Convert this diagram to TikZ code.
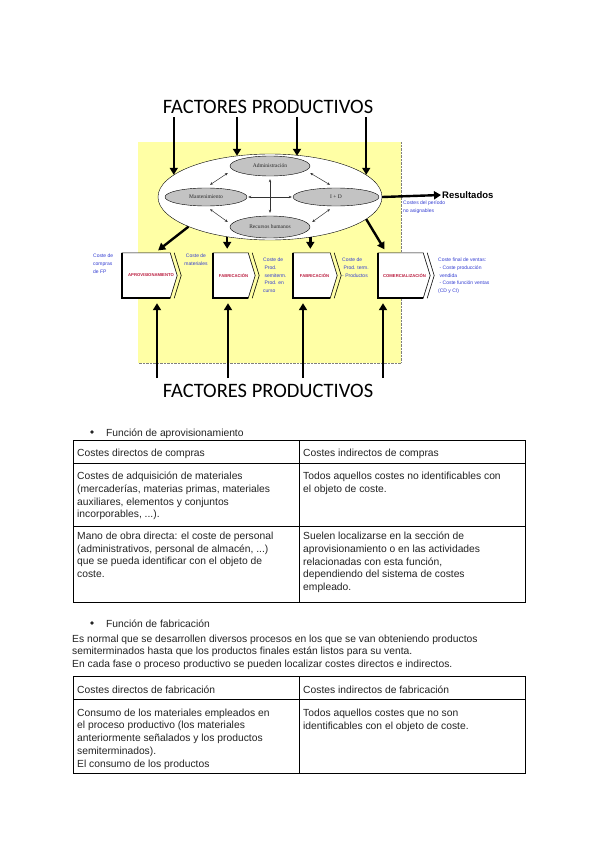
\documentclass[tikz,border=0pt]{standalone}
\usepackage{fontspec}
\setmainfont{Liberation Sans}
\newfontfamily\titlefont{Carlito}
\newfontfamily\ellfont{Liberation Serif}
\usetikzlibrary{positioning,arrows.meta,shapes.geometric,calc}
\definecolor{padclr}{RGB}{255,255,165}
\definecolor{lblclr}{RGB}{50,60,210}
\definecolor{boxclr}{RGB}{185,25,60}
\definecolor{ellclr}{RGB}{195,195,195}
\definecolor{txtclr}{RGB}{35,35,35}
\tikzset{
    fat/.style={line width=2.4pt,-{Triangle[length=7pt,width=8pt]}},
    dbl/.style={{Stealth[length=3pt,width=2.5pt]}-{Stealth[length=3pt,width=2.5pt]},line width=0.5pt,draw=black!80},
    hub/.style={ellipse,draw,thin,fill=white,minimum width=224pt,minimum height=86pt},
    area/.style={ellipse,draw,thin,fill=ellclr,minimum height=20pt,inner sep=0pt,font=\ellfont\fontsize{5.5}{6.5}\selectfont,text=black!85},
    proc/.style={rectangle,minimum height=45pt,inner sep=0pt},
    proclbl/.style={font=\fontsize{4.2}{5}\selectfont\bfseries,text=boxclr,inner sep=0pt},
    notetext/.style={font=\fontsize{5}{7.6}\selectfont,text=lblclr,align=left,inner sep=0pt},
    bigtitle/.style={font=\titlefont\fontsize{20.5}{22}\selectfont},
    cell/.style={anchor=north west,align=left,inner sep=0pt,font=\fontsize{10.3}{12.9}\selectfont,text=txtclr},
    tabline/.style={line width=0.9pt},
}
\begin{document}
\begin{tikzpicture}[x=1pt,y=-1pt]
\useasboundingbox (0,0) rectangle (600,848);
\fill[white] (0,0) rectangle (600,848);

% yellow diagram area
\fill[padclr] (138,142) rectangle (401,363);
\draw[densely dotted,gray] (401,142) -- (401,363) -- (138,363);

\node[bigtitle] (tt) at (268,107) {FACTORES PRODUCTIVOS};
\node[bigtitle] (tb) at (268,391) {FACTORES PRODUCTIVOS};

% functions of the company
\node[hub] (bigell) at (270,197) {};
\node[area,minimum width=80pt] (adm) at (270,166) {Administración};
\node[area,minimum width=82pt,minimum height=18pt] (mnt) at (206,197) {Mantenimiento};
\node[area,minimum width=86pt,minimum height=18pt] (id) at (336,197) {I + D};
\node[area,minimum width=80pt,minimum height=22pt] (rh) at (270,227) {Recursos humanos};

\draw[dbl,shorten <=3pt,shorten >=3pt] (adm.south) -- (rh.north);
\draw[dbl,shorten <=1pt,shorten >=1pt] (mnt.east) -- (id.west);
\draw[dbl] ([shift={(-2,7)}]adm.west) -- ([shift={(4,-3)}]mnt.north);
\draw[dbl] ([shift={(0,7)}]adm.east) -- ([shift={(-6,-3)}]id.north);
\draw[dbl] ([shift={(4,3)}]mnt.south) -- ([shift={(-2,-5)}]rh.west);
\draw[dbl] ([shift={(-6,3)}]id.south) -- ([shift={(2,-5)}]rh.east);

% process chain
\node[proc,minimum width=48pt] (b1) at (146,275.5) {};
\node[proc,minimum width=35pt] (b2) at (230.5,275.5) {};
\node[proc,minimum width=37pt] (b3) at (311.5,275.5) {};
\node[proc,minimum width=45pt] (b4) at (400.5,275.5) {};
\foreach \b in {b1,b2,b3,b4} {
  \draw[semithick,fill=white] (\b.north west) -- (\b.north east) -- ($(\b.east)+(7,0)$)
      -- (\b.south east) -- (\b.south west) -- cycle;
  \draw[semithick] ($(\b.north east)+(4,0)$) -- ($(\b.east)+(11,0)$) -- ($(\b.south east)+(4,0)$);
  \draw[line width=1.6pt] (\b.north west) -- (\b.south west) -- (\b.south east);
}
\node[proclbl] (l1) at ([xshift=5pt]b1.center) {APROVISIONAMIENTO};
\node[proclbl] (l2) at ([xshift=3pt]b2.center) {FABRICACIÓN};
\node[proclbl] (l3) at ([xshift=3pt]b3.center) {FABRICACIÓN};
\node[proclbl] (l4) at ([xshift=4pt]b4.center) {COMERCIALIZACIÓN};

\node[notetext,anchor=north west] (n1) at (93,254) {Coste de\\compras\\de FP};
\node[notetext,anchor=north,align=center] (n2) at (196,254) {Coste de\\materiales};
\node[notetext,anchor=north west] (n3) at (263,258) {Coste de\\\ Prod.\\\ semiterm.\\\ Prod. en\\curso};
\node[notetext,anchor=north west] (n4) at (342,258) {Coste de\\\ Prod. term.\\- Productos};
\node[notetext,anchor=north west] (n5) at (438,258) {Coste final de ventas:\\\ - Coste producción\\\ vendida\\\ - Coste función ventas\\(CD y CI)};
\node[notetext,anchor=north west] (n6) at (403,201) {Costes del período\\no asignables};

\node[anchor=west,inner sep=1pt,font=\fontsize{9.5}{11}\selectfont\bfseries] (res) at (441,195) {Resultados};
\draw[fat] (bigell.east) -- (res.west);

% inputs from above
\coordinate (t1) at (bigell.167 |- tt.south);
\coordinate (t4) at (bigell.13 |- tt.south);
\coordinate (t2) at (237,117);
\coordinate (t3) at (297,117);
\draw[fat] (t1) -- (bigell.167);
\draw[fat] (t4) -- (bigell.13);
\draw[fat] (t2) -- (t2 |- adm.north);
\draw[fat] (t3) -- (t3 |- adm.north);

% outputs to the chain
\draw[fat,shorten >=4pt] (bigell.200) -- ([xshift=9pt]b1.north);
\draw[fat,shorten >=4pt] (bigell.223) -- (bigell.223 |- b2.north);
\draw[fat,shorten >=4pt] (bigell.315) -- (bigell.315 |- b3.north);
\draw[fat,shorten >=4pt] (bigell.347) -- ([xshift=-14pt]b4.north);

% inputs from below
\foreach \x/\n/\b in {157/f1/b1,228/f2/b2,303/f3/b3,383/f4/b4} {
  \coordinate (\n) at (\x,378);
  \draw[fat,shorten >=5pt] (\n) -- (\n |- \b.south);
}

% first table
\node[circle,fill=txtclr,inner sep=0pt,minimum size=3.8pt] (bul1) at (92,432) {};
\node[cell] (s1) at (106,428.5) {Función de aprovisionamiento};
\draw[tabline] (73,440) rectangle (525,602);
\draw[tabline] (73,463) -- (525,463) (73,526) -- (525,526) (299,440) -- (299,602);
\node[cell] (c1h) at (77,448.5) {Costes directos de compras};
\node[cell] (c2h) at (303,448.5) {Costes indirectos de compras};
\node[cell] (c1a) at (77,471.5) {Costes de adquisición de materiales\\(mercaderías, materias primas, materiales\\auxiliares, elementos y conjuntos\\incorporables, ...).};
\node[cell] (c2a) at (303,471.5) {Todos aquellos costes no identificables con\\el objeto de coste.};
\node[cell] (c1b) at (77,531.5) {Mano de obra directa: el coste de personal\\(administrativos, personal de almacén, ...)\\que se pueda identificar con el objeto de\\coste.};
\node[cell] (c2b) at (303,531.5) {Suelen localizarse en la sección de\\aprovisionamiento o en las actividades\\relacionadas con esta función,\\dependiendo del sistema de costes\\empleado.};

% second table
\node[circle,fill=txtclr,inner sep=0pt,minimum size=3.8pt] (bul2) at (92,623) {};
\node[cell] (s2) at (106,619.5) {Función de fabricación};
\node[cell,font=\fontsize{10.3}{12.5}\selectfont] (p1) at (72,634.5) {Es normal que se desarrollen diversos procesos en los que se van obteniendo productos\\semiterminados hasta que los productos finales están listos para su venta.\\En cada fase o proceso productivo se pueden localizar costes directos e indirectos.};
\draw[tabline] (73,676) rectangle (525,773);
\draw[tabline] (73,699) -- (525,699) (299,676) -- (299,773);
\node[cell] (d1h) at (77,685.5) {Costes directos de fabricación};
\node[cell] (d2h) at (303,685.5) {Costes indirectos de fabricación};
\node[cell,font=\fontsize{10.3}{12.8}\selectfont] (d1a) at (77,708.5) {Consumo de los materiales empleados en\\el proceso productivo (los materiales\\anteriormente señalados y los productos\\semiterminados).\\El consumo de los productos};
\node[cell] (d2a) at (303,708.5) {Todos aquellos costes que no son\\identificables con el objeto de coste.};
\end{tikzpicture}
\end{document}
